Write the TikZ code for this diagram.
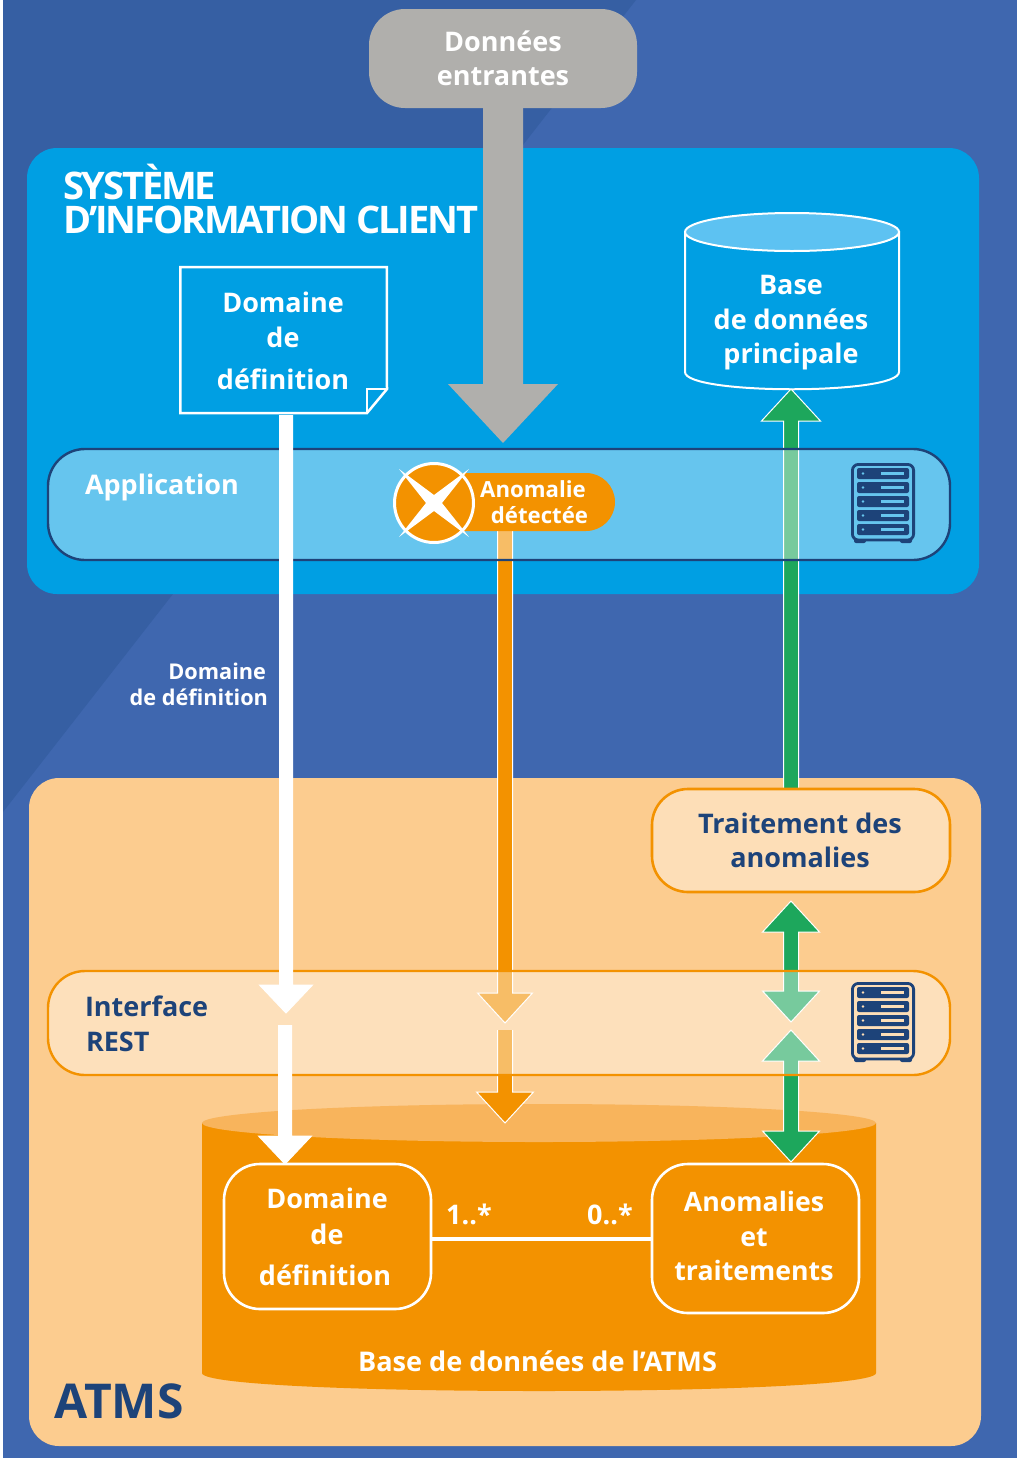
\documentclass[tikz,border=0pt]{standalone}
\usepackage{fontspec}
\setmainfont{Open Sans}
\newfontfamily\titlefont[LetterSpace=-5.6]{Open Sans}
\usetikzlibrary{calc}
\definecolor{bgdark}{HTML}{365FA3}
\definecolor{bglight}{HTML}{3F67AF}
\definecolor{sysblue}{HTML}{009FE3}
\definecolor{skyblue}{HTML}{5DC2F2}
\definecolor{bandblue}{HTML}{66C5EE}
\definecolor{atmsbg}{HTML}{FCCC8F}
\definecolor{paleor}{HTML}{FDDEB7}
\definecolor{orangeM}{HTML}{F39200}
\definecolor{orangeT}{HTML}{F8B45C}
\definecolor{navy}{HTML}{1D4379}
\definecolor{greyM}{HTML}{B0AFAC}
\definecolor{greenM}{HTML}{1DA75C}
\tikzset{
  every node/.style={inner sep=0pt, outer sep=0pt, align=center, font=\bfseries\fontsize{27}{34.5}\selectfont},
  wtext/.style={text=white},
  ntext/.style={text=navy},
  panel/.style={rectangle, rounded corners=30pt},
  band/.style={rectangle, rounded corners=37pt, line width=2.4pt, fill=white, fill opacity=.4, text opacity=1},
  softbox/.style={rectangle, rounded corners=36pt, line width=2.6pt},
  aline/.style={line width=1pt, draw=white}
}
% straight vertical arrow: from, to, half shaft, half head, head length (signed, canvas up positive), fill
\newcommand\varrow[6]{%
  \path[aline, fill=#6, line join=miter] let \p1=(#1), \p2=(#2) in
    (\x1-#3pt,\y1) -- (\x1-#3pt,\y2+#5pt) -- (\x1-#4pt,\y2+#5pt) -- (\x1,\y2)
    -- (\x1+#4pt,\y2+#5pt) -- (\x1+#3pt,\y2+#5pt) -- (\x1+#3pt,\y1);}
\newcommand\plainarrow[6]{%
  \path[fill=#6] let \p1=(#1), \p2=(#2) in
    (\x1-#3pt,\y1) -- (\x1-#3pt,\y2+#5pt) -- (\x1-#4pt,\y2+#5pt) -- (\x1,\y2)
    -- (\x1+#4pt,\y2+#5pt) -- (\x1+#3pt,\y2+#5pt) -- (\x1+#3pt,\y1) -- cycle;}
\newcommand\dblarrow[2]{%
  \path[aline, fill=greenM, line join=miter] let \p1=(#1), \p2=(#2) in
    (\x1,\y1) -- (\x1-28.5pt,\y1-31pt) -- (\x1-7.5pt,\y1-31pt) -- (\x1-7.5pt,\y2+31pt) -- (\x1-28.5pt,\y2+31pt)
    -- (\x1,\y2) -- (\x1+28.5pt,\y2+31pt) -- (\x1+7.5pt,\y2+31pt) -- (\x1+7.5pt,\y1-31pt) -- (\x1+28.5pt,\y1-31pt) -- cycle;}
\newcommand\servericon[3]{%
  \begin{scope}[shift={(#1,#2)}]
    \fill[navy, rounded corners=2pt] (3,74) rectangle (15,80);
    \fill[navy, rounded corners=2pt] (49,74) rectangle (61,80);
    \draw[navy, line width=2.8pt, fill=#3, rounded corners=6pt] (1.4,1.4) rectangle (62.6,77);
    \foreach \k in {0,1,2,3,4} {
      \fill[navy, rounded corners=2pt] (6,{5+14*\k}) rectangle (58,{16+14*\k});
      \fill[#3] (12,{10.5+14*\k}) circle (1.4);
      \fill[#3] (30,{9.2+14*\k}) rectangle (53,{11.8+14*\k});
    }
  \end{scope}}
\begin{document}
\begin{tikzpicture}[x=1pt,y=-1pt]
\useasboundingbox (0,0) rectangle (1018,1460);
% background
\fill[white] (0,0) rectangle (1018,1460);
\fill[bglight] (3,0) rectangle (1017,1458);
\fill[bgdark] (3,0) -- (636,0) -- (3,812) -- cycle;
% panels
\node[panel, fill=sysblue, minimum width=952pt, minimum height=446pt] (sys) at (503,371) {};
\node[panel, fill=atmsbg, minimum width=952pt, minimum height=668pt] (atms) at (505,1112) {};
% coordinates for free connector ends
\coordinate (grayTip) at (503,443);
\coordinate (docOut) at (286,415);
\coordinate (ifaceIn) at (286,1013);
\coordinate (ifaceOut) at (285,1025);
\coordinate (orOut) at (505,531);
\coordinate (orIface) at (505,1023);
\coordinate (orOut2) at (505,1030);
\coordinate (orDb) at (505,1123);
\coordinate (trtTop) at (791,789);
\coordinate (baseBottom) at (791,389);
\coordinate (dA) at (791,901);
\coordinate (dB) at (791,1022);
\coordinate (dC) at (791,1030);
\coordinate (dD) at (791,1162);
% incoming data
\node[rectangle, rounded corners=36pt, fill=greyM, minimum width=268pt, minimum height=99pt, wtext] (donnees) at (503,58.5) {\rule{0pt}{2pt}Données\\entrantes};
\plainarrow{donnees.south}{grayTip}{20}{55}{59}{greyM}
% document
\node[minimum width=206.5pt, minimum height=146pt] (doc) at (283.5,340) {};
\path[draw=white, line width=2.5pt, fill=sysblue, line join=miter]
  (doc.north west) -- (doc.north east) -- (387,389) -- (367,413) -- (doc.south west) -- cycle;
\draw[white, line width=2.2pt] (387,389) -- (367,389) -- (367,413);
% main DB cylinder
\path[draw=white, line width=2pt, fill=sysblue] (685,232) -- (685,372) .. controls (685,395) and (899,395) .. (899,372) -- (899,232) -- cycle;
\draw[white, line width=2pt, fill=skyblue] (792,232) ellipse [x radius=107, y radius=19];
\node[minimum width=214pt, minimum height=178pt] (mainDb) at (792,300) {};
% orange and green arrows under the bands
\varrow{orOut}{orIface}{7.5}{27.5}{30}{orangeM}
\varrow{trtTop}{baseBottom}{7.5}{29.5}{-32}{greenM}
\dblarrow{dA}{dB}
% ATMS database
\path[fill=orangeM] (202,1123) -- (202,1373) .. controls (202,1397) and (876,1397) .. (876,1373) -- (876,1123) -- cycle;
\fill[orangeT] (539,1123) ellipse [x radius=337, y radius=19];
\node[minimum width=674pt, minimum height=287pt] (atmsDb) at (539,1248) {};
% second lot of arrows, over the database
\varrow{orOut2}{orDb}{7.5}{28.5}{31}{orangeM}
\dblarrow{dC}{dD}
% bands
\node[band, draw=navy, minimum width=902pt, minimum height=111pt] (app) at (499,504.5) {};
\node[band, draw=orangeM, minimum width=902pt, minimum height=104pt] (iface) at (499,1023) {};
% white arrows
\varrow{docOut}{ifaceIn}{6.5}{26.5}{28}{white}
\node[softbox, draw=white, fill=orangeM, minimum width=207pt, minimum height=145pt] (dom) at (327.5,1236.5) {};
\node[softbox, draw=white, fill=orangeM, minimum width=207pt, minimum height=149pt] (ano) at (755.5,1238.5) {};
\varrow{ifaceOut}{dom.north -| ifaceOut}{6.5}{26.5}{28}{white}
\node[softbox, draw=orangeM, fill=paleor, minimum width=298pt, minimum height=103pt, ntext] (trt) at (801,840.5) {\hspace*{-2pt}Traitement des\\\hspace*{-2pt}anomalies};
\draw[white, line width=4pt] (dom.east |- 0,1239) -- (ano.west |- 0,1239);
% badge
\node[rectangle, rounded corners=29pt, fill=orangeM, minimum width=181pt, minimum height=58pt] (pill) at (524.5,502) {};
\node[circle, draw=white, line width=3pt, fill=orangeM, minimum size=79pt] (alert) at (434,503) {};
\fill[white] (399,469) -- (434,495) -- (469,469) -- (442,503) -- (469,537) -- (434,511) -- (399,537) -- (426,503) -- cycle;
% icons
\servericon{851}{463}{bandblue}
\servericon{851}{982}{paleor}
% texts
\node[wtext, anchor=west, align=left, font=\titlefont\bfseries\fontsize{38}{34}\selectfont] (title) at (63,199) {SYSTÈME\\D’INFORMATION CLIENT};
\node[wtext] (docT1) at (283,302) {Domaine};
\node[wtext] (docT2) at (283,337) {de};
\node[wtext] (docT3) at (283,379) {définition};
\node[wtext] (baseT) at (791,323) {Base\\de données\\principale};
\node[wtext, anchor=west] (appT) at (85,487) {Application};
\node[wtext, font=\bfseries\fontsize{22.2}{26}\selectfont] (anoT) at (533.5,502.5) {Anomalie\hspace*{1pt}\\\hspace*{12pt}détectée};
\node[wtext, anchor=east, align=right, font=\bfseries\fontsize{21.7}{26}\selectfont] (ddT) at (268,684) {Domaine\hspace*{2pt}\\de définition};
\node[ntext, anchor=west, align=left] (ifT) at (85,1024) {Interface\\\hspace*{1pt}REST};
\node[wtext] (domT1) at (327,1198) {Domaine};
\node[wtext] (domT2) at (327,1234) {de};
\node[wtext] (domT3) at (325,1275) {définition};
\node[wtext, font=\bfseries\fontsize{26.7}{34.5}\selectfont] (anoT2) at (754,1236) {Anomalies\\et\\traitements};
\node[wtext] (m1) at (469,1214) {1..*};
\node[wtext] (m2) at (610,1214) {0..*};
\node[wtext, font=\bfseries\fontsize{27.1}{34.5}\selectfont] (dbT) at (537.5,1361) {Base de données de l’ATMS};
\node[ntext, font=\bfseries\fontsize{48}{50}\selectfont] (atmsT) at (119,1401) {ATMS};
\end{tikzpicture}
\end{document}
